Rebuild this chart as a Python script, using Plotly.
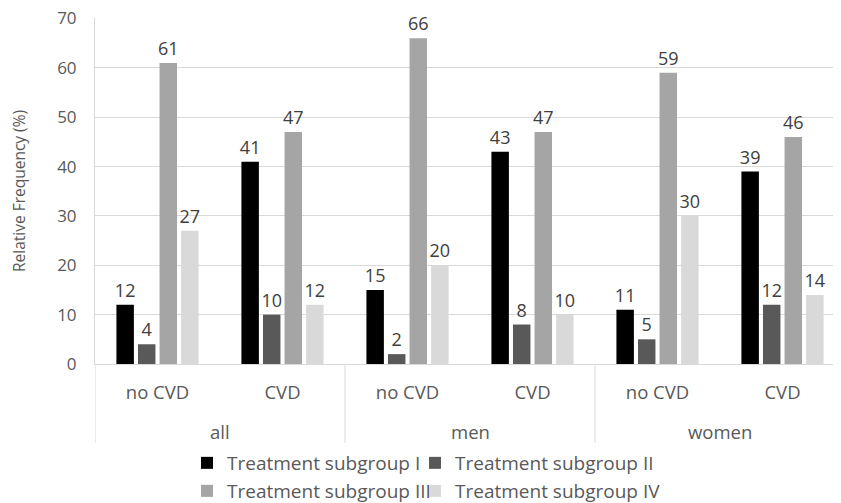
import plotly.graph_objects as go

groups = ["all", "all", "men", "men", "women", "women"]
subgroups = ["no CVD", "CVD", "no CVD", "CVD", "no CVD", "CVD"]
series_names = ["Treatment subgroup I", "Treatment subgroup II",
                "Treatment subgroup III", "Treatment subgroup IV"]
sub_I = [12, 41, 15, 43, 11, 39]
sub_II = [4, 10, 2, 8, 5, 12]
sub_III = [61, 47, 66, 47, 59, 46]
sub_IV = [27, 12, 20, 10, 30, 14]
colors = ["#000000", "#595959", "#A5A5A5", "#D9D9D9"]
y_ticks = [0, 10, 20, 30, 40, 50, 60, 70]

FONT = "Open Sans"
TXT = "#595959"
GRID = "#D9D9D9"

# the page body has an 8px default margin, so the figure is drawn 8px smaller
W, H = 833, 495

keys = [f"{g} | {s}" for g, s in zip(groups, subgroups)]

fig = go.Figure()
for i, (name, vals) in enumerate(zip(series_names, [sub_I, sub_II, sub_III, sub_IV])):
    fig.add_trace(go.Bar(
        x=keys, y=vals, name=name,
        marker=dict(color=colors[i], line=dict(width=0)),
        text=vals, texttemplate="%{y}", textposition="outside",
        constraintext="none",
        textfont=dict(family=FONT, size=18, color="#404040"),
        cliponaxis=False,
        legend="legend" if i < 2 else "legend2",
        legendwidth=183 if i % 2 == 0 else 230,
    ))

# group labels and dividers below the axis
top_groups = []
for g in groups:
    if g not in top_groups:
        top_groups.append(g)
for j, g in enumerate(top_groups):
    idx = [k for k, gg in enumerate(groups) if gg == g]
    fig.add_annotation(x=sum(idx) / len(idx), y=-0.1965, xref="x", yref="paper",
                       text=g, showarrow=False, yanchor="middle",
                       font=dict(family=FONT, size=18.5, color=TXT))
    fig.add_shape(type="line", xref="x", yref="paper", x0=idx[0] - 0.5, x1=idx[0] - 0.5,
                  y0=0, y1=-0.228, line=dict(color=GRID, width=1))
fig.add_shape(type="line", xref="x", yref="paper", x0=len(groups) - 0.5, x1=len(groups) - 0.5,
              y0=0, y1=-0.228, line=dict(color=GRID, width=1))

fig.update_layout(
    width=W, height=H,
    margin=dict(l=87, r=0, t=10, b=139, autoexpand=False),
    plot_bgcolor="white", paper_bgcolor="white",
    font=dict(family=FONT, color=TXT),
    barmode="group", bargap=0.31, bargroupgap=0.19,
    showlegend=True,
    legend=dict(orientation="h", xref="container", yref="container",
                x=179 / W, xanchor="left", y=1 - 436 / H, yanchor="top",
                font=dict(family=FONT, size=19, color=TXT),
                bgcolor="rgba(0,0,0,0)"),
    legend2=dict(orientation="h", xref="container", yref="container",
                 x=179 / W, xanchor="left", y=1 - 464 / H, yanchor="top",
                 font=dict(family=FONT, size=19, color=TXT),
                 bgcolor="rgba(0,0,0,0)"),
)
fig.update_yaxes(range=[0, 70.1], tickvals=y_ticks, showgrid=True, gridcolor=GRID,
                 gridwidth=1, zeroline=False, showline=True, linecolor=GRID, linewidth=1,
                 automargin=False, ticklabeloverflow="allow",
                 ticks="outside", ticklen=14, tickcolor="rgba(0,0,0,0)",
                 tickfont=dict(family=FONT, size=17, color=TXT),
                 title=dict(text="Relative Frequency (%)", font=dict(family=FONT, size=15.5, color=TXT),
                            standoff=36))
fig.update_xaxes(type="category", range=[-0.5, 5.468], automargin=False,
                 tickvals=keys, ticktext=subgroups,
                 showline=True, linecolor=GRID, linewidth=1, showgrid=False,
                 tickfont=dict(family=FONT, size=18.5, color=TXT),
                 ticks="outside", ticklen=12, tickcolor="rgba(0,0,0,0)")

fig.write_html("out.html")
